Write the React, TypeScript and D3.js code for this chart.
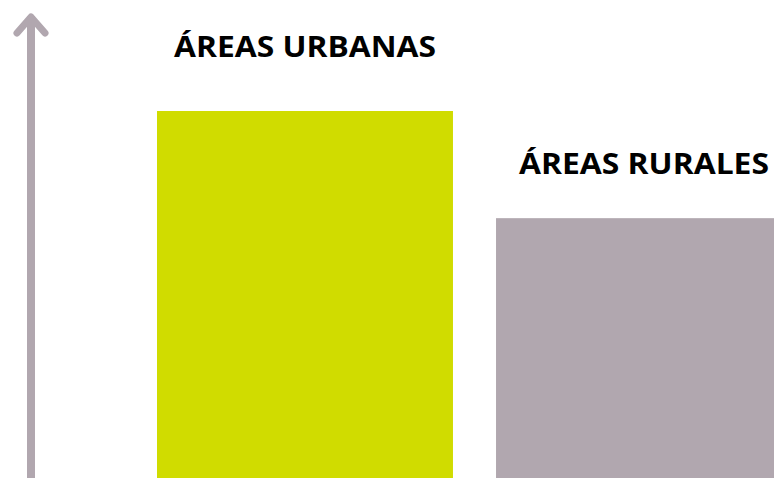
import { useEffect, useRef } from 'react';
import * as d3 from 'd3';

// Chart data
const categories = ['ÁREAS URBANAS', 'ÁREAS RURALES'];
const values = [100, 70.8];
const barColors = ['#d0dc00', '#b1a7af'];
// gap between bar top and label baseline
const labelOffsets = [54, 44];

const WIDTH = 774;
const HEIGHT = 478;
const AXIS_COLOR = '#b1a7af';

export default function App() {
  const svgRef = useRef<SVGSVGElement>(null);

  useEffect(() => {
    if (!svgRef.current) return;
    const svg = d3.select(svgRef.current);
    svg.selectAll('*').remove();

    // second bar runs off the right edge, as in the original
    const x = d3.scaleBand<string>().domain(categories).range([157, 792]).paddingInner(0.127).paddingOuter(0);
    const y = d3.scaleLinear().domain([0, 100]).range([HEIGHT, 111]);

    // Bars
    svg
      .selectAll('rect.bar')
      .data(categories)
      .enter()
      .append('rect')
      .attr('class', 'bar')
      .attr('x', (d) => x(d)!)
      .attr('y', (_d, i) => y(values[i]))
      .attr('width', x.bandwidth())
      .attr('height', (_d, i) => HEIGHT - y(values[i]))
      .attr('fill', (_d, i) => barColors[i]);

    // Labels
    svg
      .selectAll('text.label')
      .data(categories)
      .enter()
      .append('text')
      .attr('class', 'label')
      .attr('x', (d) => x(d)! + x.bandwidth() / 2)
      .attr('y', (_d, i) => y(values[i]) - labelOffsets[i])
      .attr('text-anchor', 'middle')
      .attr('font-family', "'Open Sans', sans-serif")
      .attr('font-weight', 700)
      .attr('font-size', 29)
      .attr('textLength', (_d, i) => (i === 0 ? 262 : 250))
      .attr('lengthAdjust', 'spacingAndGlyphs')
      .attr('fill', '#000')
      .text((d) => d);

    // Vertical arrow axis
    svg
      .append('line')
      .attr('x1', 31)
      .attr('x2', 31)
      .attr('y1', HEIGHT)
      .attr('y2', 16)
      .attr('stroke', AXIS_COLOR)
      .attr('stroke-width', 8);

    svg
      .append('path')
      .attr('d', 'M17,33 L31,17 L45,33')
      .attr('fill', 'none')
      .attr('stroke', AXIS_COLOR)
      .attr('stroke-width', 7)
      .attr('stroke-linecap', 'round')
      .attr('stroke-linejoin', 'round');
  }, []);

  return (
    <svg
      ref={svgRef}
      width={WIDTH}
      height={HEIGHT}
      style={{ position: 'absolute', left: 0, top: 0, background: '#fff' }}
    />
  );
}
